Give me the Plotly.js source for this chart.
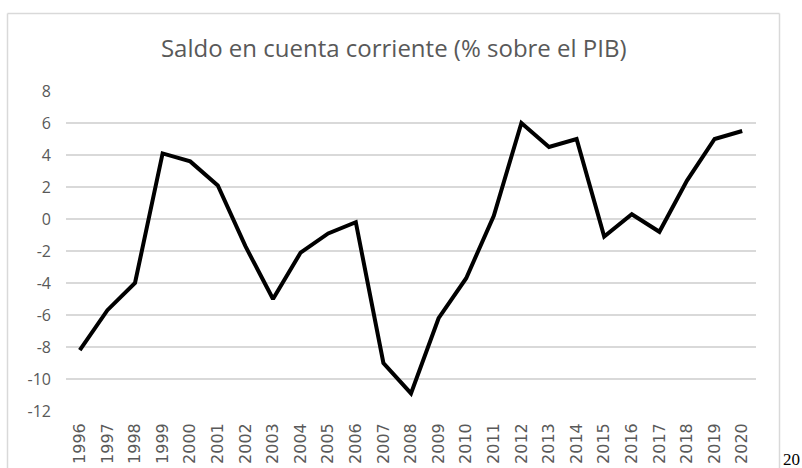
<!DOCTYPE html>
<html>
<head>
<meta charset="utf-8">
<script src="https://cdn.plot.ly/plotly-3.0.1.min.js"></script>
<style>
  html, body { margin: 0; padding: 0; background: #ffffff; }
  #chart { width: 802px; height: 468px; }
</style>
</head>
<body>
<div id="chart"></div>
<script>
const years = ["1996","1997","1998","1999","2000","2001","2002","2003","2004","2005","2006","2007","2008","2009","2010","2011","2012","2013","2014","2015","2016","2017","2018","2019","2020"];
const saldo = [-8.2, -5.7, -4.0, 4.1, 3.6, 2.1, -1.7, -5.0, -2.1, -0.9, -0.2, -9.0, -10.9, -6.2, -3.7, 0.2, 6.0, 4.5, 5.0, -1.1, 0.3, -0.8, 2.4, 5.0, 5.5];
const yTicks = [-12, -10, -8, -6, -4, -2, 0, 2, 4, 6, 8];
const chartTitle = "Saldo en cuenta corriente (% sobre el PIB)";
const strayText = "20";

const W = 802, H = 468;
const mL = 66, mR = 46, mT = 91, mB = 57;
const pw = W - mL - mR, ph = H - mT - mB;
const px = v => (v - mL) / pw;
const py = v => (H - mB - v) / ph;

const trace = {
  x: years,
  y: saldo,
  type: 'scatter',
  mode: 'lines',
  line: { color: '#000000', width: 4, shape: 'linear' },
  hoverinfo: 'skip',
  showlegend: false
};

const layout = {
  width: W, height: H,
  margin: { l: mL, r: mR, t: mT, b: mB, pad: 0 },
  paper_bgcolor: '#ffffff',
  plot_bgcolor: '#ffffff',
  title: {
    text: chartTitle,
    font: { family: 'Open Sans, sans-serif', size: 24, color: '#595959' },
    x: 0.475, xref: 'paper', xanchor: 'center',
    y: 1 - 49 / H, yref: 'container', yanchor: 'middle'
  },
  xaxis: {
    type: 'category',
    range: [-0.5, years.length - 0.5],
    showgrid: false,
    zeroline: false,
    showline: false,
    ticks: '',
    tickangle: -90,
    ticklabelstandoff: 8,
    tickfont: { family: 'DejaVu Sans, sans-serif', size: 16, color: '#595959' },
    fixedrange: true
  },
  yaxis: {
    range: [-12, 8],
    tickvals: yTicks,
    ticktext: yTicks.map(String),
    showgrid: true,
    gridcolor: '#d9d9d9',
    gridwidth: 1.8,
    zeroline: false,
    showline: false,
    ticks: '',
    ticklabelstandoff: 14,
    tickfont: { family: 'Open Sans, sans-serif', size: 16, color: '#595959' },
    fixedrange: true
  },
  shapes: [
    { type: 'line', xref: 'paper', yref: 'paper', x0: px(7.5), x1: px(779.5), y0: py(13.5), y1: py(13.5), line: { color: '#d9d9d9', width: 1.5 }, layer: 'below' },
    { type: 'line', xref: 'paper', yref: 'paper', x0: px(7.5), x1: px(7.5), y0: py(13.5), y1: py(480), line: { color: '#d9d9d9', width: 1.5 }, layer: 'below' },
    { type: 'line', xref: 'paper', yref: 'paper', x0: px(779.5), x1: px(779.5), y0: py(13.5), y1: py(480), line: { color: '#d9d9d9', width: 1.5 }, layer: 'below' }
  ],
  annotations: [
    { text: strayText, xref: 'paper', yref: 'paper', x: px(801), y: py(459), xanchor: 'right', yanchor: 'middle', showarrow: false,
      borderpad: 0,
      font: { family: 'Liberation Serif, serif', size: 17, color: '#000000' } }
  ]
};

Plotly.newPlot('chart', [trace], layout, { staticPlot: true, displayModeBar: false });
</script>
</body>
</html>
